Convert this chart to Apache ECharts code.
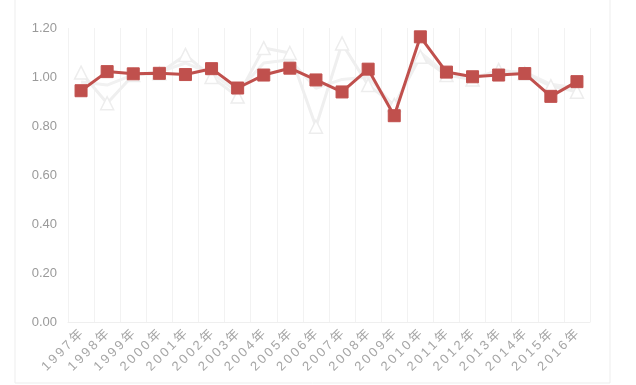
<!DOCTYPE html>
<html><head><meta charset="utf-8">
<script src="https://cdn.jsdelivr.net/npm/echarts@6/dist/echarts.min.js"></script>
<style>html,body{margin:0;padding:0;background:#fff}#c{width:636px;height:385px}</style>
</head><body><div id="c"></div>
<script>
const categories = ['1997年','1998年','1999年','2000年','2001年','2002年','2003年','2004年','2005年','2006年','2007年','2008年','2009年','2010年','2011年','2012年','2013年','2014年','2015年','2016年'];
const redValues = [0.944,1.022,1.013,1.015,1.010,1.034,0.955,1.008,1.036,0.988,0.939,1.032,0.842,1.164,1.020,1.001,1.008,1.014,0.921,0.981];
const triValues = [1.018,0.893,1.008,1.015,1.090,1.000,0.920,1.118,1.098,0.797,1.137,0.967,0.886,1.083,1.008,0.990,1.029,1.015,0.963,0.940];
const greyValues = [0.980,0.967,1.010,1.020,1.057,1.015,0.940,1.057,1.070,0.954,0.990,1.000,0.880,1.100,1.012,1.000,1.020,1.020,0.970,0.955];
const yTicks = {min:0, max:1.2, interval:0.2};

const chart = echarts.init(document.getElementById('c'), null, {renderer:'canvas'});
const fontFam = '"Liberation Sans","Noto Sans CJK SC",sans-serif';
chart.setOption({
  animation:false,
  backgroundColor:'#fff',
  graphic:[{type:'rect',shape:{x:15,y:-5,width:595,height:388},style:{fill:'none',stroke:'#EDEDED',lineWidth:1},silent:true}],
  grid:{left:68,right:46,top:28,bottom:63},
  xAxis:{type:'category',data:categories,boundaryGap:true,
    axisLine:{show:true,lineStyle:{color:'#EFEFEF',width:1}},
    axisTick:{show:false},
    splitLine:{show:true,lineStyle:{color:'#F2F2F2',width:1}},
    axisLabel:{interval:0,rotate:45,margin:10,color:'#A6A6A6',fontSize:13,fontFamily:fontFam,
      formatter:v=>v.split('').join('\u2009')}},
  yAxis:{type:'value',min:yTicks.min,max:yTicks.max,interval:yTicks.interval,
    axisLine:{show:false},axisTick:{show:false},splitLine:{show:false},
    axisLabel:{color:'#9A9A9A',fontSize:13,margin:11,fontFamily:fontFam,formatter:v=>v.toFixed(2)}},
  series:[
    {type:'line',data:greyValues,symbol:'none',lineStyle:{color:'#F1F1F1',width:3},z:1},
    {type:'line',data:triValues,symbol:'triangle',symbolSize:13,
      itemStyle:{color:'#FFFFFF',borderColor:'#EDEDED',borderWidth:1.5},
      lineStyle:{color:'#EFEFEF',width:3},z:2},
    {type:'line',data:redValues,symbol:'rect',symbolSize:12,
      itemStyle:{color:'#C0504D',borderColor:'#C0504D',borderWidth:1},
      lineStyle:{color:'#C0504D',width:3},z:3}
  ]
});
</script></body></html>
